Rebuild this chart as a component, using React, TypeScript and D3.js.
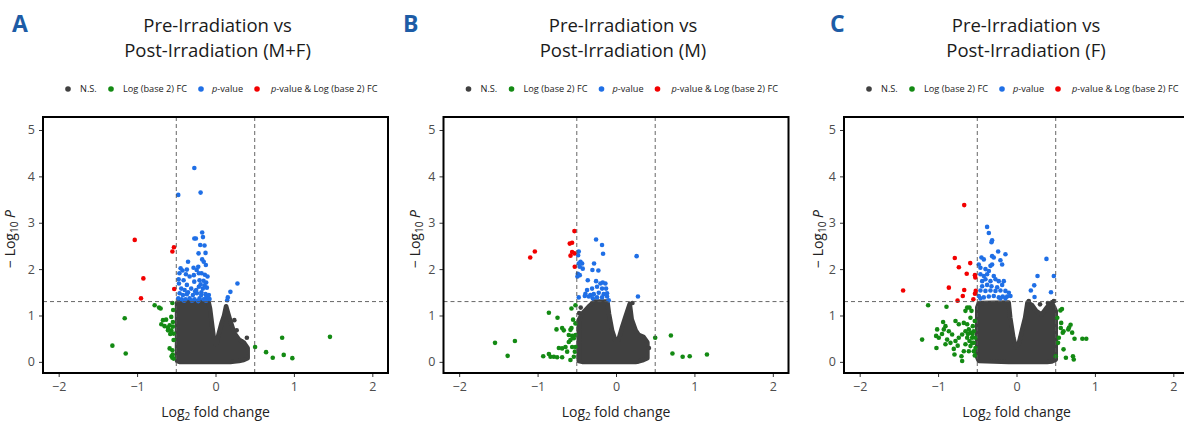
import React, { useEffect, useRef } from "react";
import * as d3 from "d3";

type Pt = [number, number];
type Env = [number, number, number]; // [log2FC, lower -log10P, upper -log10P] of the dense N.S. cloud

const panelLetters = ["A", "B", "C"];
const titleLine1 = ["Pre-Irradiation vs", "Pre-Irradiation vs", "Pre-Irradiation vs"];
const titleLine2 = ["Post-Irradiation (M+F)", "Post-Irradiation (M)", "Post-Irradiation (F)"];
const xTicks = [-2, -1, 0, 1, 2];
const yTicks = [0, 1, 2, 3, 4, 5];
const legendLabels = ["N.S.", "Log (base 2) FC", "p-value", "p-value & Log (base 2) FC"];
const fcCutoff = 0.5;
const pCutoff = 1.3;

// ---------- panel A (M+F) ----------
const nsCloudA: Env[] = [
  [-0.49, 0.02, 1.27], [-0.46, 0, 1.3], [-0.09, 0, 1.3], [-0.07, 0, 1.15], [-0.04, 0, 0.75],
  [-0.015, 0, 0.42], [0.01, 0, 0.38], [0.04, 0, 0.6], [0.08, 0, 0.85], [0.11, 0, 1.0],
  [0.135, 0, 1.2], [0.16, 0, 1.05], [0.19, 0, 0.88], [0.24, 0.01, 0.62], [0.3, 0.02, 0.48],
  [0.36, 0.04, 0.42], [0.41, 0.08, 0.3],
];
const nsExtraA: Pt[] = [[0.4, 0.52], [0.4, 0.12], [0.24, 0.9], [0.27, 0.68], [0.33, 0.45]];
const fcA: Pt[] = [
  [-0.776, 1.22], [-0.72, 1.17], [-0.7, 1.15], [-0.55, 1.27], [-0.54, 1.12], [-1.158, 0.94],
  [-1.315, 0.35], [-1.145, 0.18], [-0.67, 0.9], [-0.63, 0.91], [-0.564, 0.97], [-0.691, 0.81],
  [-0.649, 0.77], [-0.606, 0.74], [-0.585, 0.79], [-0.543, 0.86], [-0.564, 0.68], [-0.606, 0.68],
  [-0.543, 0.76], [-0.534, 0.61], [-0.577, 0.6], [-0.534, 0.47], [-0.585, 0.29], [-0.55, 0.25],
  [-0.56, 0.12], [-0.55, 0.09], [-0.534, 0.07], [-0.545, 0.16],
  [0.505, 0.32], [0.645, 0.21], [0.73, 0.09], [0.85, 0.52], [0.87, 0.15], [0.98, 0.08], [1.46, 0.54],
];
const pA: Pt[] = [
  [-0.27, 4.18], [-0.475, 3.6], [-0.19, 3.65], [-0.17, 2.79], [-0.16, 2.69], [-0.14, 2.51],
  [-0.27, 2.66], [-0.25, 2.66], [-0.195, 2.52], [-0.127, 2.35], [-0.216, 2.34], [-0.35, 2.16],
  [-0.17, 2.21], [-0.15, 2.16], [-0.445, 2.02], [-0.42, 1.97], [-0.365, 1.99], [-0.28, 2.03],
  [-0.24, 1.98], [-0.22, 2.05], [-0.123, 2.09], [-0.46, 1.91], [-0.47, 1.78], [-0.377, 1.89],
  [-0.33, 1.84], [-0.276, 1.87], [-0.212, 1.91], [-0.178, 1.91], [-0.136, 1.88], [-0.102, 1.84],
  [-0.407, 1.76], [-0.365, 1.66], [-0.271, 1.73], [-0.204, 1.76], [-0.153, 1.75], [-0.119, 1.71],
  [-0.19, 1.67], [-0.466, 1.69], [-0.437, 1.58], [-0.394, 1.55], [-0.31, 1.58], [-0.246, 1.55],
  [-0.212, 1.62], [-0.161, 1.58], [-0.11, 1.6], [-0.458, 1.48], [-0.416, 1.44], [-0.365, 1.46],
  [-0.288, 1.44], [-0.237, 1.48], [-0.182, 1.44], [-0.127, 1.46], [-0.085, 1.44], [-0.475, 1.37],
  [-0.433, 1.35], [-0.382, 1.35], [-0.33, 1.37], [-0.267, 1.35], [-0.204, 1.37], [-0.153, 1.35],
  [-0.119, 1.39], [-0.076, 1.355], [-0.4, 1.32], [-0.3, 1.32], [-0.22, 1.31], [-0.12, 1.32],
  [-0.1, 1.4], [-0.26, 1.52], [-0.35, 1.5], [-0.18, 1.5], [-0.14, 1.65],
  [0.28, 1.69], [0.19, 1.51], [0.157, 1.39], [0.149, 1.33],
];
const bothA: Pt[] = [[-1.03, 2.63], [-0.53, 2.47], [-0.55, 2.38], [-0.92, 1.8], [-0.526, 1.57], [-0.95, 1.37]];

// ---------- panel B (M) ----------
const nsCloudB: Env[] = [
  [-0.475, 0.02, 0.9], [-0.43, 0, 1.04], [-0.35, 0, 1.19], [-0.28, 0, 1.3], [-0.11, 0, 1.3],
  [-0.09, 0, 1.04], [-0.05, 0, 0.68], [-0.01, 0, 0.47], [0.03, 0, 0.47], [0.08, 0, 0.76],
  [0.12, 0, 0.97], [0.175, 0, 1.25], [0.2, 0, 0.92], [0.25, 0, 0.68], [0.29, 0.01, 0.58],
  [0.35, 0.04, 0.54], [0.4, 0.08, 0.42],
];
const nsExtraB: Pt[] = [[0.21, 1.27], [-0.45, 1.17], [-0.47, 1.05], [0.42, 0.3]];
const fcB: Pt[] = [
  [-0.856, 1.06], [-0.746, 0.95], [-1.543, 0.41], [-1.289, 0.45], [-1.382, 0.13], [-0.759, 0.7],
  [-0.687, 0.73], [-0.666, 0.68], [-0.581, 0.69], [-0.568, 0.73], [-0.602, 0.58], [-0.559, 0.56],
  [-0.581, 0.47], [-0.538, 0.51], [-0.517, 0.58], [-0.729, 0.3], [-0.687, 0.29], [-0.644, 0.32],
  [-0.559, 0.32], [-0.517, 0.32], [-0.928, 0.12], [-0.856, 0.17], [-0.835, 0.11], [-0.793, 0.11],
  [-0.751, 0.1], [-0.687, 0.1], [-0.581, 0.04], [-0.538, 0.11], [-0.568, 1.15], [-0.517, 1.22],
  [-0.547, 0.91], [-0.517, 0.83], [-0.602, 0.43], [-0.623, 0.22], [-0.525, 0.22],
  [0.5, 0.52], [0.7, 0.57], [0.72, 0.18], [0.85, 0.11], [0.94, 0.12], [1.16, 0.16],
];
const pB: Pt[] = [
  [-0.254, 2.64], [-0.178, 2.52], [-0.165, 2.33], [0.263, 2.28], [0.28, 1.41], [-0.475, 2.38],
  [-0.483, 2.3], [-0.453, 2.16], [-0.432, 2.12], [-0.475, 2.12], [-0.462, 2.05], [-0.424, 2.01],
  [-0.28, 2.12], [-0.301, 1.98], [-0.225, 1.97], [-0.487, 1.9], [-0.462, 1.87], [-0.492, 1.84],
  [-0.36, 1.76], [-0.254, 1.74], [-0.199, 1.69], [-0.169, 1.71], [-0.135, 1.69], [-0.369, 1.55],
  [-0.305, 1.58], [-0.242, 1.62], [-0.178, 1.58], [-0.127, 1.58], [-0.39, 1.47], [-0.326, 1.44],
  [-0.284, 1.46], [-0.22, 1.49], [-0.157, 1.46], [-0.114, 1.48], [-0.475, 1.39], [-0.398, 1.42],
  [-0.347, 1.41], [-0.296, 1.37], [-0.242, 1.39], [-0.178, 1.39], [-0.114, 1.41], [-0.093, 1.33],
];
const bothB: Pt[] = [
  [-0.53, 2.82], [-0.56, 2.57], [-0.59, 2.55], [-0.56, 2.37], [-0.53, 2.34], [-0.58, 2.29],
  [-0.526, 2.05], [-1.035, 2.38], [-1.094, 2.25],
];

// ---------- panel C (F) ----------
const nsCloudC: Env[] = [
  [-0.5, 0.1, 1.17], [-0.48, 0.02, 1.27], [-0.1, 0, 1.28], [-0.08, 0, 0.95], [-0.04, 0, 0.52],
  [-0.01, 0, 0.32], [0.03, 0, 0.4], [0.07, 0, 0.68], [0.11, 0, 0.95], [0.14, 0, 1.28],
  [0.2, 0, 1.22], [0.25, 0, 1.1], [0.32, 0, 1.02], [0.39, 0, 1.18], [0.45, 0.01, 1.28],
  [0.5, 0.05, 1.1],
];
const nsExtraC: Pt[] = [[0.157, 1.31], [0.3, 1.24], [0.4, 1.27], [0.476, 1.31], [0.455, 1.24]];
const fcC: Pt[] = [
  [-1.127, 1.22], [-0.893, 1.19], [-1.204, 0.48], [-1.021, 0.3], [-1.012, 0.7], [-1.025, 0.56],
  [-0.991, 0.52], [-0.936, 0.86], [-0.906, 0.77], [-0.927, 0.7], [-0.863, 0.66], [-0.821, 0.59],
  [-0.885, 0.48], [-0.842, 0.41], [-0.906, 0.38], [-0.778, 0.45], [-0.736, 0.52], [-0.791, 0.16],
  [-0.702, 0.12], [-0.672, 0.23], [-0.693, 0.02], [-0.778, 0.88], [-0.736, 0.81], [-0.672, 0.84],
  [-0.629, 0.81], [-0.651, 0.66], [-0.608, 0.7], [-0.587, 0.63], [-0.693, 0.59], [-0.629, 0.52],
  [-0.566, 0.52], [-0.545, 0.41], [-0.587, 0.34], [-0.651, 0.38], [-0.545, 0.23], [-0.523, 0.3],
  [-0.629, 1.17], [-0.651, 1.1], [-0.6, 1.17], [-0.574, 1.1], [-0.557, 0.77], [-0.532, 0.88],
  [-0.545, 0.66], [-0.587, 0.95], [-0.523, 0.52], [-0.566, 0.41], [-0.608, 0.23], [-0.532, 0.14],
  [-0.6, 0.45], [-0.62, 0.6], [-0.56, 0.6], [-0.75, 0.35], [-0.8, 0.28], [-0.95, 0.6],
  [0.56, 1.11], [0.58, 1.14], [0.52, 0.95], [0.57, 0.84], [0.565, 0.73], [0.6, 0.66], [0.59, 0.63],
  [0.66, 0.7], [0.69, 0.8], [0.67, 0.74], [0.71, 0.63], [0.74, 0.5], [0.84, 0.5], [0.89, 0.5],
  [0.54, 0.52], [0.53, 0.41], [0.6, 0.27], [0.63, 0.09], [0.72, 0.12], [0.73, 0.05], [0.5, 0.12],
];
const pC: Pt[] = [
  [-0.375, 2.91], [-0.353, 2.78], [-0.311, 2.62], [-0.319, 2.58], [-0.447, 2.25], [-0.417, 2.21],
  [-0.234, 2.38], [-0.141, 2.32], [-0.311, 2.28], [-0.29, 2.25], [-0.205, 2.19], [-0.183, 2.1],
  [-0.481, 2.1], [-0.46, 2.03], [-0.311, 2.1], [-0.332, 2.07], [-0.396, 2.0], [-0.353, 1.96],
  [-0.46, 1.89], [-0.417, 1.85], [-0.375, 1.89], [-0.29, 1.85], [-0.438, 1.74], [-0.396, 1.78],
  [-0.332, 1.74], [-0.268, 1.78], [-0.226, 1.74], [-0.162, 1.74], [-0.438, 1.63], [-0.375, 1.66],
  [-0.319, 1.63], [-0.247, 1.61], [-0.183, 1.66], [-0.46, 1.54], [-0.396, 1.53], [-0.332, 1.54],
  [-0.268, 1.53], [-0.205, 1.54], [-0.141, 1.53], [-0.098, 1.49], [-0.481, 1.42], [-0.417, 1.39],
  [-0.353, 1.41], [-0.29, 1.42], [-0.226, 1.39], [-0.175, 1.41], [-0.12, 1.41], [-0.077, 1.42],
  [-0.46, 1.37], [-0.205, 1.37], [-0.141, 1.37],
  [0.382, 2.22], [0.268, 1.85], [0.476, 1.85], [0.226, 1.65], [0.183, 1.54], [0.23, 1.4], [0.44, 1.5],
];
const bothC: Pt[] = [
  [-0.667, 3.38], [-0.787, 2.24], [-0.735, 2.04], [-0.59, 2.13], [-0.635, 1.9], [-1.446, 1.54],
  [-0.863, 1.6], [-0.667, 1.55], [-0.685, 1.42], [-0.752, 1.32], [-0.53, 1.87], [-0.525, 1.82],
  [-0.52, 1.53], [-0.53, 1.47], [-0.55, 1.35],
];

const nsClouds = [nsCloudA, nsCloudB, nsCloudC];
const nsExtras = [nsExtraA, nsExtraB, nsExtraC];
const fcSets = [fcA, fcB, fcC];
const pSets = [pA, pB, pC];
const bothSets = [bothA, bothB, bothC];

const colors = ["#404040", "#138a13", "#1f6fe6", "#f20000"];
const font = "'Open Sans', 'Noto Sans', sans-serif";

const App = () => {
  const ref = useRef<SVGSVGElement>(null);

  useEffect(() => {
    const svg = d3.select(ref.current);
    svg.selectAll("*").remove();

    const offsets = [0, 400.5, 801];
    const letterX = [12, 403, 830];
    const titleX = [217.5, 623, 1026];
    const yTitleDx = [-28, -24, -21];
    const boxW = 345;
    const top = 117;
    const bottom = 373;

    panelLetters.forEach((letter, i) => {
      const off = offsets[i];
      const left = 43 + off;
      const x = d3.scaleLinear().domain([-2.2, 2.2]).range([left, left + boxW]);
      const y = d3.scaleLinear().domain([-0.24, 5.28]).range([bottom, top]);
      const g = svg.append("g");

      g.append("text")
        .attr("x", letterX[i])
        .attr("y", 32)
        .attr("font-family", font)
        .attr("font-weight", "bold")
        .attr("font-size", 23)
        .attr("fill", "#1d5ca6")
        .text(letter);

      g.append("text")
        .attr("x", titleX[i])
        .attr("y", 32)
        .attr("text-anchor", "middle")
        .attr("font-family", font)
        .attr("font-size", 18.5)
        .attr("fill", "#1a1a1a")
        .text(titleLine1[i]);
      g.append("text")
        .attr("x", titleX[i])
        .attr("y", 57)
        .attr("text-anchor", "middle")
        .attr("font-family", font)
        .attr("font-size", 18.5)
        .attr("fill", "#1a1a1a")
        .text(titleLine2[i]);

      // legend
      const dotX = [68, 111, 201, 257];
      const txtX = [80, 123, 212, 271];
      legendLabels.forEach((lab, k) => {
        g.append("circle")
          .attr("cx", dotX[k] + off)
          .attr("cy", 89)
          .attr("r", 2.8)
          .attr("fill", colors[k]);
        const t = g
          .append("text")
          .attr("x", txtX[k] + off)
          .attr("y", 92.2)
          .attr("font-family", font)
          .attr("font-size", 9.2)
          .attr("fill", "#222");
        if (lab.startsWith("p-value")) {
          t.append("tspan").attr("font-style", "italic").text("p");
          t.append("tspan").text(lab.slice(1));
        } else {
          t.text(lab);
        }
      });

      const clipId = `clip${i}`;
      g.append("clipPath")
        .attr("id", clipId)
        .append("rect")
        .attr("x", left)
        .attr("y", top)
        .attr("width", boxW)
        .attr("height", bottom - top);

      const plot = g.append("g").attr("clip-path", `url(#${clipId})`);

      const area = d3
        .area<Env>()
        .x((d) => x(d[0]))
        .y0((d) => y(d[1]))
        .y1((d) => y(d[2]));

      plot
        .append("path")
        .datum(nsClouds[i])
        .attr("d", area)
        .attr("fill", colors[0])
        .attr("stroke", colors[0])
        .attr("stroke-width", 4.6)
        .attr("stroke-linejoin", "round");

      const sets = [nsExtras[i], fcSets[i], pSets[i], bothSets[i]];
      sets.forEach((pts, k) => {
        plot
          .selectAll(null)
          .data(pts)
          .enter()
          .append("circle")
          .attr("cx", (d) => x(d[0]))
          .attr("cy", (d) => y(d[1]))
          .attr("r", 2.3)
          .attr("fill", colors[k]);
      });

      // cutoff lines
      [-fcCutoff, fcCutoff].forEach((v) => {
        plot
          .append("line")
          .attr("x1", x(v))
          .attr("x2", x(v))
          .attr("y1", top)
          .attr("y2", bottom)
          .attr("stroke", "#555")
          .attr("stroke-width", 0.9)
          .attr("stroke-dasharray", "4,3");
      });
      plot
        .append("line")
        .attr("x1", left)
        .attr("x2", left + boxW)
        .attr("y1", y(pCutoff))
        .attr("y2", y(pCutoff))
        .attr("stroke", "#555")
        .attr("stroke-width", 0.9)
        .attr("stroke-dasharray", "4,3");

      // axes
      const xAxis = g
        .append("g")
        .attr("transform", `translate(0,${bottom})`)
        .call(d3.axisBottom(x).tickValues(xTicks).tickFormat(d3.format("d")).tickSize(4).tickPadding(5));
      const yAxis = g
        .append("g")
        .attr("transform", `translate(${left},0)`)
        .call(d3.axisLeft(y).tickValues(yTicks).tickFormat(d3.format("d")).tickSize(4).tickPadding(4));
      [xAxis, yAxis].forEach((a) => {
        a.select(".domain").remove();
        a.selectAll("line").attr("stroke", "#333");
        a.selectAll("text")
          .attr("font-family", font)
          .attr("font-size", 12.5)
          .attr("fill", "#4d4d4d");
      });

      g.append("rect")
        .attr("x", left)
        .attr("y", top)
        .attr("width", boxW)
        .attr("height", bottom - top)
        .attr("fill", "none")
        .attr("stroke", "#000")
        .attr("stroke-width", 2);

      // axis titles
      const xt = g
        .append("text")
        .attr("x", x(0))
        .attr("y", 416.5)
        .attr("text-anchor", "middle")
        .attr("font-family", font)
        .attr("font-size", 14)
        .attr("fill", "#222");
      xt.append("tspan").text("Log");
      xt.append("tspan").attr("font-size", 10).attr("dy", 3).text("2");
      xt.append("tspan").attr("dy", -3).text(" fold change");

      const yt = g
        .append("text")
        .attr("transform", `translate(${left + yTitleDx[i]},${(top + bottom) / 2 - 6}) rotate(-90)`)
        .attr("text-anchor", "middle")
        .attr("font-family", font)
        .attr("font-size", 14)
        .attr("fill", "#222");
      yt.append("tspan").text("\u2212 Log");
      yt.append("tspan").attr("font-size", 10).attr("dy", 3).text("10");
      yt.append("tspan").attr("dy", -3).text(" ");
      yt.append("tspan").attr("font-style", "italic").text("P");
    });
  }, []);

  return (
    <div style={{ position: "absolute", left: 0, top: 0 }}>
      <svg ref={ref} width={1184} height={421} style={{ display: "block", background: "#fff" }}></svg>
    </div>
  );
};

export default App;
